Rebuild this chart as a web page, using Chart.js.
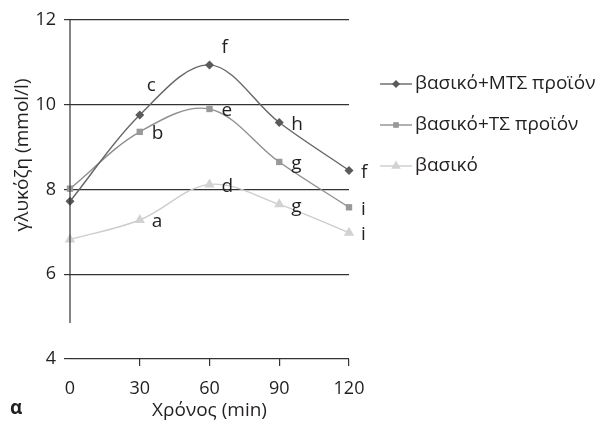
<!DOCTYPE html>
<html>
<head>
<meta charset="utf-8">
<script src="https://cdn.jsdelivr.net/npm/chart.js@4/dist/chart.umd.min.js"></script>
<style>
  body { margin: 0; background: #fff; }
</style>
</head>
<body>
<canvas id="glucose" width="597" height="433"></canvas>
<script>
var times = [0, 30, 60, 90, 120];
var mtsValues = [7.72, 9.76, 10.94, 9.58, 8.45];
var tsValues = [8.02, 9.36, 9.90, 8.65, 7.58];
var baseValues = [6.82, 7.28, 8.12, 7.65, 6.98];

// significance letters next to each point
var mtsLetters = ["", "c", "f", "h", "f"];
var tsLetters = ["", "b", "e", "g", "i"];
var baseLetters = ["", "a", "d", "g", "i"];

var seriesNames = ["βασικό+ΜΤΣ προϊόν", "βασικό+ΤΣ προϊόν", "βασικό"];
var yTicks = [4, 6, 8, 10, 12];

var FONT = "'Open Sans', sans-serif";
var TEXT = "#231f20";

function points(values) {
    return times.map(function (t, i) { return { x: t, y: values[i] }; });
}

var datasets = [
    { label: seriesNames[0], data: points(mtsValues), letters: mtsLetters,
      borderColor: "#666", backgroundColor: "#5a5a5a", pointStyle: "rectRot", pointRadius: 4.5 },
    { label: seriesNames[1], data: points(tsValues), letters: tsLetters,
      borderColor: "#8f8f8f", backgroundColor: "#999", pointStyle: "rect", pointRadius: 4.5 },
    { label: seriesNames[2], data: points(baseValues), letters: baseLetters,
      borderColor: "#cdcdcd", backgroundColor: "#d2d2d2", pointStyle: "triangle", pointRadius: 6 }
];
datasets.forEach(function (d) {
    d.borderWidth = 1.4;
    d.tension = 0.35;
    d.pointBorderWidth = 0;
    d.pointHoverRadius = d.pointRadius;
    d.clip = false;
});

// a couple of letters sit above-left of their point instead of to the right
var letterOffsets = {
    "0-1": [7, -29],
    "0-2": [12, -17]
};

var extras = {
    id: "extras",
    afterDraw: function (chart) {
        var ctx = chart.ctx;
        var xs = chart.scales.x, ys = chart.scales.y;
        ctx.save();

        // broken y axis line
        ctx.strokeStyle = "#333";
        ctx.lineWidth = 1.2;
        ctx.beginPath();
        ctx.moveTo(xs.left, ys.top);
        ctx.lineTo(xs.left, ys.getPixelForValue(4.85));
        ctx.stroke();

        // point letters
        ctx.fillStyle = TEXT;
        ctx.font = "19px " + FONT;
        ctx.textAlign = "left";
        ctx.textBaseline = "middle";
        chart.data.datasets.forEach(function (ds, di) {
            var meta = chart.getDatasetMeta(di);
            ds.letters.forEach(function (letter, i) {
                if (!letter) return;
                var p = meta.data[i];
                var off = letterOffsets[di + "-" + i] || [12, 2];
                ctx.fillText(letter, p.x + off[0], p.y + off[1]);
            });
        });

        // legend
        var lx = 380, ly = 84;
        chart.data.datasets.forEach(function (ds, di) {
            var y = ly + di * 41;
            ctx.strokeStyle = ds.borderColor;
            ctx.lineWidth = 1.4;
            ctx.beginPath();
            ctx.moveTo(lx, y);
            ctx.lineTo(lx + 32, y);
            ctx.stroke();
            ctx.fillStyle = ds.backgroundColor;
            Chart.helpers.drawPoint(ctx, {
                pointStyle: ds.pointStyle, radius: ds.pointRadius - 0.5, borderWidth: 0
            }, lx + 16, y);
            ctx.fillStyle = TEXT;
            ctx.fillText(ds.label, lx + 35, y);
        });

        // y title
        ctx.save();
        ctx.translate(23, 155);
        ctx.rotate(-Math.PI / 2);
        ctx.textAlign = "center";
        ctx.fillText("γλυκόζη (mmol/l)", 0, 0);
        ctx.restore();

        // panel letter
        ctx.font = "bold 19px " + FONT;
        ctx.fillText("α", 10, 409);
        ctx.restore();
    }
};

Chart.defaults.font.family = FONT;
Chart.defaults.color = TEXT;

var glucoseChart = new Chart(document.getElementById("glucose").getContext("2d"), {
    type: "line",
    data: { datasets: datasets },
    options: {
        responsive: false,
        animation: false,
        events: [],
        layout: { padding: { top: 20, right: 248, left: 0, bottom: 0 } },
        plugins: {
            legend: { display: false },
            tooltip: { enabled: false }
        },
        scales: {
            x: {
                type: "linear",
                min: 0,
                max: 120,
                ticks: { stepSize: 30, padding: 12, font: { size: 18 }, color: TEXT },
                grid: {
                    drawOnChartArea: false,
                    tickLength: 7,
                    lineWidth: 1.2,
                    color: function (c) { return c.tick && c.tick.value === 0 ? "rgba(0,0,0,0)" : "#333"; }
                },
                border: { display: false },
                title: { display: true, text: "Χρόνος (min)", font: { size: 19 }, color: TEXT, padding: { top: 0, bottom: 11 } },
                afterFit: function (s) { s.height = 74; }
            },
            y: {
                min: 4,
                max: 12,
                afterBuildTicks: function (s) { s.ticks = yTicks.map(function (v) { return { value: v }; }); },
                ticks: { padding: 8, font: { size: 18 }, color: TEXT },
                grid: { color: "#333", lineWidth: 1.2, tickLength: 6 },
                border: { display: false },
                afterFit: function (s) { s.width = 70; }
            }
        }
    },
    plugins: [extras]
});
</script>
</body>
</html>
